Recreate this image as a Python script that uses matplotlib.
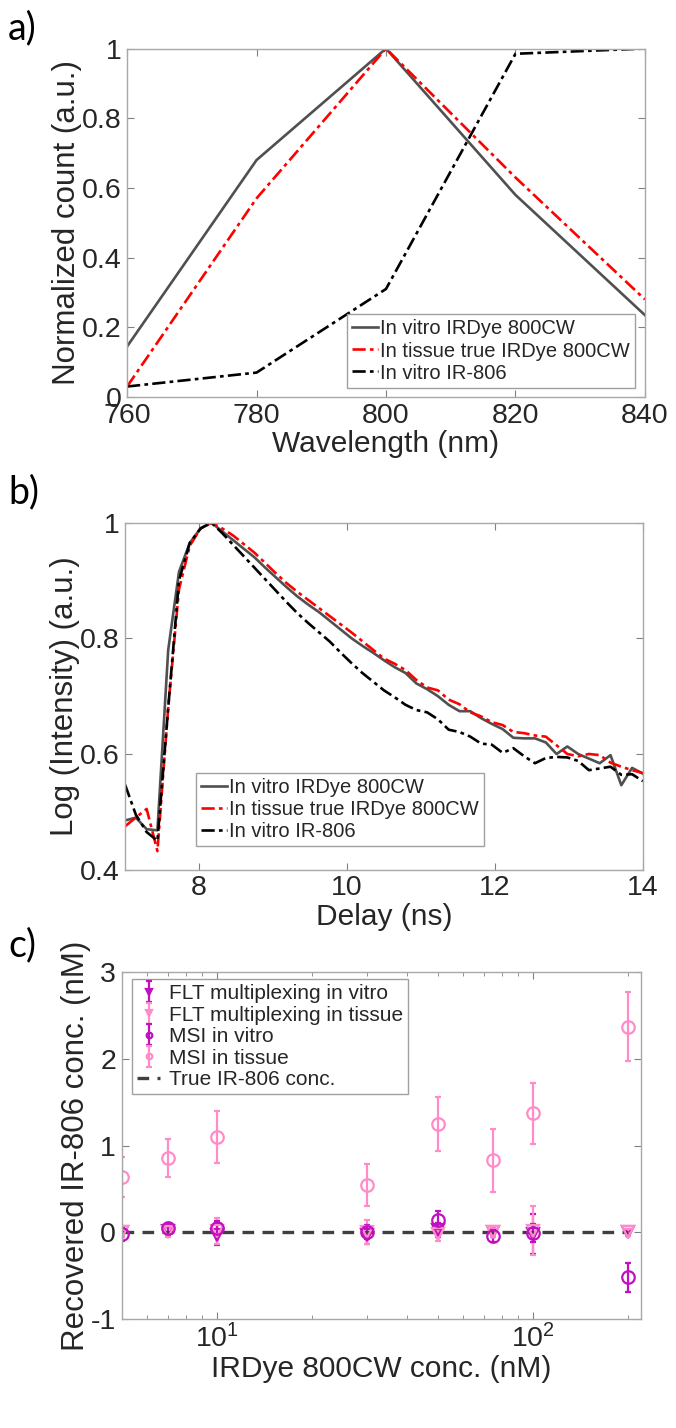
import numpy as np
import matplotlib
matplotlib.use('Agg')
import matplotlib.pyplot as plt
from matplotlib.ticker import FuncFormatter

plt.rcParams['font.family'] = ['Liberation Sans', 'DejaVu Sans']
plt.rcParams['mathtext.default'] = 'regular'

# a) spectra
wavelength = [760, 780, 800, 820, 840]
spec_vitro_800cw = [0.145, 0.68, 1.0, 0.58, 0.235]
spec_tissue_800cw = [0.03, 0.57, 1.0, 0.63, 0.28]
spec_vitro_ir806 = [0.03, 0.07, 0.31, 0.985, 1.0]

# b) decays (gates from 7 to 14 ns)
delay = np.linspace(7, 14, 49)
tpsf_vitro_800cw = [0.485, 0.49, 0.47, 0.468, 0.78, 0.915, 0.965, 0.99, 1.0,
                    0.985, 0.97, 0.955, 0.94, 0.922, 0.905, 0.888, 0.872, 0.858,
                    0.845, 0.83, 0.815, 0.80, 0.787, 0.775, 0.762, 0.75, 0.74,
                    0.722, 0.712, 0.70, 0.685, 0.674, 0.674, 0.662, 0.652, 0.643,
                    0.628, 0.627, 0.627, 0.62, 0.60, 0.613, 0.60, 0.592, 0.584,
                    0.598, 0.546, 0.576, 0.566]
tpsf_tissue_800cw = [0.475, 0.49, 0.505, 0.432, 0.68, 0.885, 0.96, 0.99, 1.0,
                     0.99, 0.978, 0.963, 0.948, 0.93, 0.912, 0.895, 0.88, 0.866,
                     0.852, 0.838, 0.824, 0.81, 0.795, 0.78, 0.765, 0.756, 0.745,
                     0.728, 0.715, 0.71, 0.694, 0.686, 0.672, 0.665, 0.655, 0.65,
                     0.638, 0.636, 0.632, 0.63, 0.615, 0.60, 0.596, 0.60, 0.598,
                     0.585, 0.578, 0.572, 0.567]
tpsf_vitro_ir806 = [0.547, 0.495, 0.465, 0.45, 0.68, 0.90, 0.965, 0.99, 1.0,
                    0.982, 0.962, 0.942, 0.922, 0.902, 0.882, 0.862, 0.843, 0.826,
                    0.81, 0.794, 0.775, 0.757, 0.74, 0.725, 0.71, 0.698, 0.685,
                    0.676, 0.672, 0.66, 0.642, 0.638, 0.63, 0.618, 0.616, 0.602,
                    0.61, 0.596, 0.584, 0.593, 0.595, 0.594, 0.588, 0.572, 0.575,
                    0.578, 0.564, 0.565, 0.553]

# c) recovered IR-806 concentration
conc = [5, 7, 10, 30, 50, 75, 100, 200]
flt_vitro = [0.0, 0.01, -0.03, -0.03, 0.03, 0.0, -0.02, 0.0]
flt_vitro_err = [0.06, 0.05, 0.12, 0.10, 0.08, 0.06, 0.23, 0.02]
flt_tissue = [0.0, 0.0, 0.02, 0.0, -0.02, 0.0, 0.02, 0.0]
flt_tissue_err = [0.05, 0.05, 0.15, 0.14, 0.08, 0.05, 0.28, 0.04]
msi_vitro = [-0.02, 0.045, 0.045, 0.0, 0.14, -0.04, -0.01, -0.52]
msi_vitro_err = [0.08, 0.06, 0.08, 0.08, 0.10, 0.07, 0.10, 0.17]
msi_tissue = [0.64, 0.86, 1.10, 0.545, 1.25, 0.83, 1.37, 2.37]
msi_tissue_err = [0.23, 0.22, 0.30, 0.24, 0.31, 0.36, 0.35, 0.40]
true_ir806 = [0, 0, 0, 0, 0, 0, 0, 0]

GRAY = '#505050'
PURPLE = '#C010C0'
PINK = '#FF8CC8'
TXT = '#262626'
DASHDOT = (0, (5, 1.6, 1.4, 1.6))

fig = plt.figure(figsize=(6.76, 14.28), dpi=100)


def style_axes(ax):
    for s in ax.spines.values():
        s.set_color('#a8a8a8')
        s.set_linewidth(1.0)
    ax.tick_params(direction='in', top=True, right=True, labelsize=20.5,
                   colors=TXT, length=5, width=0.8, pad=4)
    ax.tick_params(which='both', color='#808080')
    ax.yaxis.set_major_formatter(FuncFormatter(lambda v, _: f'{v:g}'))


def style_legend(leg):
    fr = leg.get_frame()
    fr.set_edgecolor('#a0a0a0')
    fr.set_linewidth(1.0)
    for t in leg.get_texts():
        t.set_color(TXT)


# ---- a)
ax1 = fig.add_axes([0.188, 0.722, 0.766, 0.244])
ax1.plot(wavelength, spec_vitro_800cw, color=GRAY, lw=1.9, label='In vitro IRDye 800CW')
ax1.plot(wavelength, spec_tissue_800cw, color='red', lw=1.9, ls=DASHDOT,
         label='In tissue true IRDye 800CW')
ax1.plot(wavelength, spec_vitro_ir806, color='black', lw=1.9, ls=DASHDOT,
         label='In vitro IR-806')
ax1.set_xlim(760, 840)
ax1.set_ylim(0, 1)
ax1.set_xticks([760, 780, 800, 820, 840])
ax1.set_yticks([0, 0.2, 0.4, 0.6, 0.8, 1])
style_axes(ax1)
ax1.set_xlabel('Wavelength (nm)', fontsize=21.5, color=TXT, labelpad=1)
ax1.set_ylabel('Normalized count (a.u.)', fontsize=22.5, color=TXT, labelpad=0)
leg = ax1.legend(loc='lower right', bbox_to_anchor=(0.98, 0.027), borderaxespad=0,
                 fontsize=14.5, fancybox=False, framealpha=1, handlelength=1.3,
                 handletextpad=0.1, labelspacing=0.15, borderpad=0.25)
style_legend(leg)

# ---- b)
ax2 = fig.add_axes([0.185, 0.391, 0.766, 0.243])
ax2.plot(delay, tpsf_vitro_800cw, color=GRAY, lw=1.9, label='In vitro IRDye 800CW')
ax2.plot(delay, tpsf_tissue_800cw, color='red', lw=1.9, ls=DASHDOT,
         label='In tissue true IRDye 800CW')
ax2.plot(delay, tpsf_vitro_ir806, color='black', lw=1.9, ls=DASHDOT,
         label='In vitro IR-806')
ax2.set_xlim(7, 14)
ax2.set_ylim(0.4, 1)
ax2.set_xticks([8, 10, 12, 14])
ax2.set_yticks([0.4, 0.6, 0.8, 1])
style_axes(ax2)
ax2.set_xlabel('Delay (ns)', fontsize=21.5, color=TXT, labelpad=1)
ax2.set_ylabel('Log (Intensity) (a.u.)', fontsize=22.5, color=TXT, labelpad=0)
leg = ax2.legend(loc='lower left', bbox_to_anchor=(0.137, 0.069), borderaxespad=0,
                 fontsize=14.5, fancybox=False, framealpha=1, handlelength=1.3,
                 handletextpad=0.1, labelspacing=0.15, borderpad=0.25)
style_legend(leg)

# ---- c)
ax3 = fig.add_axes([0.180, 0.0763, 0.768, 0.243])
eb_kw = dict(ls='none', ms=9, mfc='none', capsize=2.5, elinewidth=1.6, mew=1.6)
h1 = ax3.errorbar(conc, flt_vitro, yerr=flt_vitro_err, marker='v', color=PURPLE,
                  label='FLT multiplexing in vitro', **eb_kw)
h2 = ax3.errorbar(conc, flt_tissue, yerr=flt_tissue_err, marker='v', color=PINK,
                  label='FLT multiplexing in tissue', **eb_kw)
h3 = ax3.errorbar(conc, msi_vitro, yerr=msi_vitro_err, marker='o', color=PURPLE,
                  label='MSI in vitro', **eb_kw)
h4 = ax3.errorbar(conc, msi_tissue, yerr=msi_tissue_err, marker='o', color=PINK,
                  label='MSI in tissue', **eb_kw)
h5, = ax3.plot(conc, true_ir806, color='#404040', lw=2.4, ls=(0, (3.5, 2.5)),
               label='True IR-806 conc.')
ax3.set_xscale('log')
ax3.set_xlim(5, 220)
ax3.set_ylim(-1, 3)
ax3.set_yticks([-1, 0, 1, 2, 3])
style_axes(ax3)
ax3.tick_params(which='minor', direction='in', top=True, right=True, length=3)
ax3.set_xlabel('IRDye 800CW conc. (nM)', fontsize=21.5, color=TXT, labelpad=1)
ax3.set_ylabel('Recovered IR-806 conc. (nM)', fontsize=22.5, color=TXT, labelpad=0)
leg = ax3.legend(handles=[h1, h2, h3, h4, h5], loc='upper left',
                 bbox_to_anchor=(0.02, 0.98), borderaxespad=0,
                 fontsize=15, fancybox=False, framealpha=1, handlelength=1.1,
                 handletextpad=0.4, labelspacing=0.12, borderpad=0.25,
                 markerscale=0.45)
style_legend(leg)

# panel letters
for y, lab in [(0.980, 'a)'), (0.655, 'b)'), (0.338, 'c)')]:
    fig.text(0.012, y, lab, fontsize=27, family=['Lato', 'DejaVu Sans'],
             color='black', va='center', ha='left')

fig.savefig('out.png', dpi=100)
